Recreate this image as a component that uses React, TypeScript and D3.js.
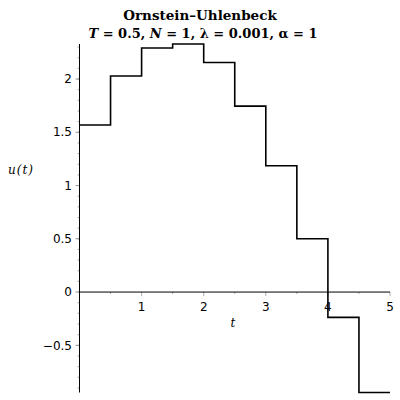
import React from "react";
import * as d3 from "d3";

// step start times and the value held on each step
const times = [0, 0.5, 1, 1.5, 2, 2.5, 3, 3.5, 4, 4.5];
const values = [1.568, 2.028, 2.291, 2.329, 2.156, 1.746, 1.186, 0.5, -0.238, -0.943];
const tEnd = 5;

const xLabels = [1, 2, 3, 4, 5];
const yLabels = [-0.5, 0, 0.5, 1, 1.5, 2];

const width = 400;
const height = 400;

const App: React.FC = () => {
  const x = d3.scaleLinear().domain([0, tEnd]).range([79.5, 390]);
  const y = d3
    .scaleLinear()
    .domain([d3.min(values) ?? 0, d3.max(values) ?? 0])
    .range([392.5, 44]);

  const pts: [number, number][] = times.map((t, i) => [t, values[i]]);
  pts.push([tEnd, values[values.length - 1]]);

  const line = d3
    .line<[number, number]>()
    .x((d) => x(d[0]))
    .y((d) => y(d[1]))
    .curve(d3.curveStepAfter);

  // minor ticks every 0.1 on y, every 0.5 on x
  const yMinor = d3.range(-9, 24).map((k) => k / 10);
  const xMinor = d3.range(1, 11).map((k) => k / 2);

  const fmt = (v: number) => (v < 0 ? "\u2212" + Math.abs(v) : String(v));

  return (
    <div style={{ position: "fixed", left: 0, top: 0 }}>
      <svg width={width} height={height} style={{ display: "block", background: "#fff" }}>
        {/* title */}
        <g fontFamily="DejaVu Serif" fontWeight="bold" textAnchor="middle" fill="#000">
          <text x={200} y={20} fontSize={13.5}>Ornstein–Uhlenbeck</text>
          <text x={203} y={38} fontSize={13}>
            <tspan fontStyle="italic">T</tspan> = 0.5, <tspan fontStyle="italic">N</tspan> = 1, λ = 0.001, α = 1
          </text>
        </g>

        {/* y ticks */}
        {yMinor.map((v) => (
          <line
            key={"ym" + v}
            x1={x(0) - 2}
            x2={x(0)}
            y1={y(v)}
            y2={y(v)}
            stroke="#aaa"
          />
        ))}
        {yLabels.map((v) => (
          <g key={"yl" + v}>
            <line x1={x(0) - 4} x2={x(0)} y1={y(v)} y2={y(v)} stroke="#999" />
            <text
              x={72}
              y={y(v)}
              dy="0.35em"
              textAnchor="end"
              fontFamily="DejaVu Sans"
              fontSize={12}
              fill="#000"
            >
              {fmt(v)}
            </text>
          </g>
        ))}

        {/* x ticks */}
        {xMinor.map((v) => (
          <line
            key={"xm" + v}
            x1={x(v)}
            x2={x(v)}
            y1={y(0)}
            y2={y(0) + (Number.isInteger(v) ? 4 : 2)}
            stroke="#aaa"
          />
        ))}
        {xLabels.map((v) => (
          <text
            key={"xl" + v}
            x={x(v)}
            y={y(0) + 19}
            textAnchor="middle"
            fontFamily="DejaVu Sans"
            fontSize={12}
            fill="#000"
          >
            {v}
          </text>
        ))}

        {/* axes */}
        <line x1={x(0)} x2={x(0)} y1={y.range()[1]} y2={y.range()[0]} stroke="#000" />
        <line x1={x(0)} x2={x(tEnd)} y1={y(0)} y2={y(0)} stroke="#000" />

        {/* axis labels */}
        <text x={233} y={327} fontFamily="DejaVu Serif" fontStyle="italic" fontSize={12} textAnchor="middle">
          t
        </text>
        <text x={21} y={174} fontFamily="DejaVu Serif" fontStyle="italic" fontSize={12} textAnchor="middle" letterSpacing={1}>
          u(t)
        </text>

        {/* step path */}
        <path d={line(pts) ?? ""} fill="none" stroke="#000" strokeWidth={1.6} />
      </svg>
    </div>
  );
};

export default App;
